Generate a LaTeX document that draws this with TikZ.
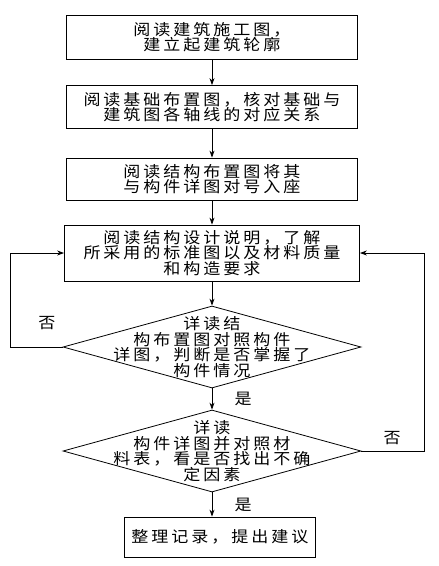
\documentclass[tikz,border=0pt]{standalone}
\usepackage{fontspec}
\newfontfamily\cjk{Noto Sans CJK SC}[FakeStretch=1.1,LetterSpace=19]
\usetikzlibrary{shapes.geometric, positioning, arrows.meta}

\begin{document}
\begin{tikzpicture}[
    x=1pt, y=-1pt, on grid, line width=0.8pt,
    >={Stealth[length=7pt, width=5pt]},
    every node/.style={font=\cjk\fontsize{15.5}{15.5}\selectfont},
    process/.style={rectangle, draw, align=center, minimum width=291pt, minimum height=43pt, inner sep=2pt},
    decision/.style={diamond, draw, minimum width=298pt, minimum height=82pt, inner sep=0pt},
    flow/.style={->}
]
    \useasboundingbox[fill=white] (0,0) rectangle (439,566);

    \node[process, minimum height=44pt] (read1) at (212,37) {阅读建筑施工图，\\建立起建筑轮廓};
    \node[process] (read2) [below=70pt of read1] {阅读基础布置图，核对基础与\\建筑图各轴线的对应关系};
    \node[process, minimum height=42pt] (read3) [below=72pt of read2] {阅读结构布置图将其\\与构件详图对号入座};
    \node[process, minimum width=295pt, minimum height=56pt] (read4) [below=74pt of read3] {阅读结构设计说明，了解\\所采用的标准图以及材料质量\\和构造要求};
    \node[decision, label={[align=center]center:{详读结\\构布置图对照构件\\详图，判断是否掌握了\\构件情况}}] (check1) [below=94pt of read4] {};
    \node[decision, label={[align=center]center:{详读\\构件详图并对照材\\料表，看是否找出不确\\定因素}}] (check2) [below=104pt of check1] {};
    \node[process, minimum width=191pt, minimum height=40pt] (finish) [below=86pt of check2, xshift=8pt] {整理记录，提出建议};

    \draw[flow] (read1) -- (read2);
    \draw[flow] (read2) -- (read3);
    \draw[flow] (read3) -- (read4);
    \draw[flow] (read4) -- (check1);
    \draw[flow] (check1) -- node[right=19pt] (yes1) {是} (check2);
    \draw[flow] (check2) -- node[right=19pt] (yes2) {是} (check2.south |- finish.north);

    % loops back to the design notes
    \draw[flow] (check1.west) -- node[pos=0.3, above=14pt] (no1) {否} ++(-52pt,0) |- (read4.west);
    \draw[flow] (check2.east) -- node[pos=0.49, above=3pt] (no2) {否} ++(63pt,0) |- (read4.east);
\end{tikzpicture}
\end{document}
